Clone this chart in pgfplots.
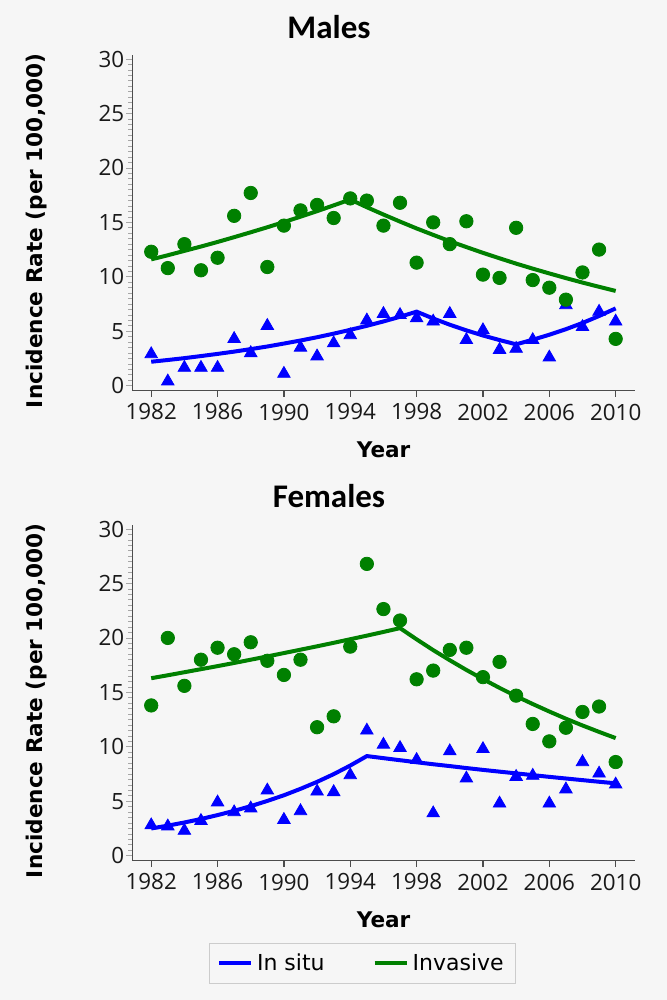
\documentclass[border=0pt]{standalone}
\usepackage{pgfplots}
\pgfplotsset{compat=1.18}
\usepackage{pgfplotstable}
\usepackage{fontspec}
\setmainfont{Open Sans}
\newfontfamily\djv{DejaVu Sans}
\newfontfamily\carlito{Carlito}
\definecolor{bg}{RGB}{246,246,246}
\definecolor{ingreen}{RGB}{0,128,0}
\definecolor{inblue}{RGB}{0,0,255}

\pgfplotstableread{
year insitu invasive fitin fitinv
1982 2.9 12.3 2.20 11.60
1983 0.4 10.8 2.36 11.98
1984 1.65 13.0 2.53 12.38
1985 1.65 10.6 2.72 12.78
1986 1.65 11.75 2.92 13.20
1987 4.3 15.6 3.13 13.64
1988 3.0 17.7 3.36 14.09
1989 5.5 10.9 3.60 14.55
1990 1.1 14.7 3.87 15.03
1991 3.5 16.1 4.15 15.52
1992 2.7 16.6 4.45 16.03
1993 3.9 15.4 4.78 16.56
1994 4.65 17.2 5.13 17.10
1995 6.0 17.0 5.50 16.39
1996 6.6 14.7 5.90 15.72
1997 6.5 16.8 6.33 15.07
1998 6.2 11.3 6.80 14.44
1999 5.9 15.0 6.17 13.85
2000 6.6 13.0 5.60 13.27
2001 4.2 15.1 5.08 12.73
2002 5.1 10.2 4.61 12.20
2003 3.3 9.9 4.19 11.70
2004 3.4 14.5 3.80 11.21
2005 4.2 9.7 4.22 10.75
2006 2.6 9.0 4.68 10.31
2007 7.4 7.9 5.19 9.88
2008 5.4 10.4 5.76 9.47
2009 6.8 12.5 6.40 9.08
2010 5.9 4.3 7.10 8.70
}\males

\pgfplotstableread{
year insitu invasive fitin fitinv
1982 2.8 13.8 2.50 16.30
1983 2.7 20.0 2.76 16.57
1984 2.3 15.6 3.05 16.85
1985 3.2 18.0 3.37 17.13
1986 4.9 19.1 3.73 17.41
1987 4.0 18.5 4.12 17.70
1988 4.35 19.6 4.55 18.00
1989 6.0 17.9 5.03 18.30
1990 3.3 16.6 5.55 18.61
1991 4.1 18.0 6.14 18.92
1992 5.9 11.8 6.78 19.23
1993 5.85 12.8 7.49 19.55
1994 7.4 19.2 8.28 19.88
1995 11.5 26.8 9.15 20.21
1996 10.2 22.65 8.96 20.55
1997 9.9 21.6 8.77 20.90
1998 8.8 16.2 8.58 19.87
1999 3.9 17.0 8.40 18.88
2000 9.6 18.9 8.23 17.95
2001 7.1 19.1 8.05 17.06
2002 9.8 16.4 7.88 16.22
2003 4.8 17.8 7.72 15.41
2004 7.25 14.7 7.56 14.65
2005 7.35 12.1 7.40 13.93
2006 4.8 10.5 7.24 13.24
2007 6.1 11.75 7.09 12.58
2008 8.6 13.2 6.94 11.96
2009 7.55 13.7 6.79 11.37
2010 6.55 8.6 6.65 10.80
}\females

\pgfplotsset{
  myaxis/.style={
    scale only axis, width=251.3pt, height=167.85pt, anchor=south west,
    xmin=1980.86, xmax=2011.16, ymin=-0.46, ymax=30.37,
    axis x line*=bottom, axis y line*=left,
    axis line style={black!70, line width=0.6pt, -},
    xtick={1982,1986,...,2010}, ytick={0,5,...,30},
    minor y tick num=9,
    x tick label style={/pgf/number format/1000 sep={}},
    y tick label style={xshift=2.5pt},
    tick label style={font=\fontsize{11.2}{13}\selectfont, text=black!90},
    /pgf/number format/assume math mode=true,
    tick align=outside,
    major tick length=3pt, minor tick length=2pt,
    x tick style={black!70, line width=0.6pt},
    y tick style={black!35, line width=0.4pt},
    minor y tick style={black!35, line width=0.4pt},
    xlabel={Year}, ylabel={Incidence Rate (per 100,000)},
    label style={font=\djv\bfseries\fontsize{10.8}{12}\selectfont},
    xlabel style={at={(axis description cs:0.5,-0.1767)}, anchor=center},
    ylabel style={at={(axis description cs:-0.1896,0.476)}, anchor=center},
    legend image code/.code={\draw[#1, line width=2pt] (0pt,0pt) -- (16pt,0pt);},
  },
  fitline/.style={line width=2pt, mark=none},
  circ/.style={only marks, mark=*, mark size=3.35pt, ingreen, mark options={draw=ingreen, fill=ingreen}},
  tri/.style={only marks, mark=triangle*, mark size=3.6pt, inblue, mark options={draw=inblue, fill=inblue}},
}

\begin{document}
\begin{tikzpicture}
\fill[bg] (0pt,0pt) rectangle (333.5pt,-500pt);
\useasboundingbox (0pt,0pt) rectangle (333.5pt,-500pt);

\node[font=\carlito\bfseries\fontsize{16.5}{18}\selectfont, anchor=base] at (164.5pt,-19.5pt) {Males};
\node[font=\carlito\bfseries\fontsize{16.5}{18}\selectfont, anchor=base] at (164.5pt,-253.5pt) {Females};

\begin{axis}[myaxis, at={(66.15pt,-195.35pt)}]
\addplot[fitline, inblue] table[x=year, y=fitin] {\males};
\addplot[fitline, ingreen] table[x=year, y=fitinv] {\males};
\addplot[tri, forget plot] table[x=year, y=insitu] {\males};
\addplot[circ, forget plot] table[x=year, y=invasive] {\males};
\end{axis}

\begin{axis}[myaxis, at={(66.15pt,-430.35pt)},
  legend style={at={(axis description cs:0.4577,-0.306)}, anchor=center,
    draw=black!20, fill=bg, font=\djv\fontsize{11}{13}\selectfont,
    legend columns=2, /tikz/every even column/.append style={column sep=22pt},
    inner xsep=4pt, inner ysep=3pt},
  legend cell align=left]
\addplot[fitline, inblue] table[x=year, y=fitin] {\females};
\addlegendentry{In situ}
\addplot[fitline, ingreen] table[x=year, y=fitinv] {\females};
\addlegendentry{Invasive}
\addplot[tri, forget plot] table[x=year, y=insitu] {\females};
\addplot[circ, forget plot] table[x=year, y=invasive] {\females};
\end{axis}
\end{tikzpicture}
\end{document}
